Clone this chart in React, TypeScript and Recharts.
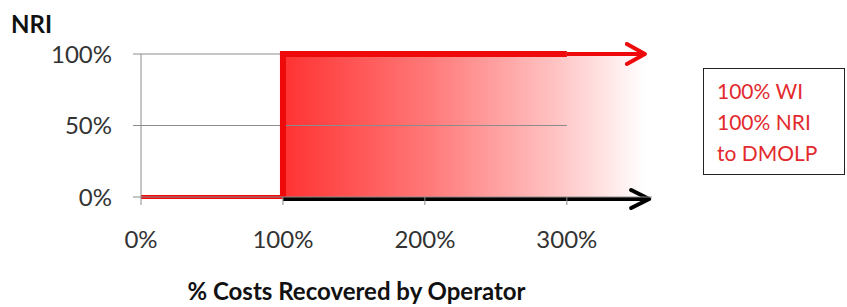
import { ComposedChart, Line, Area, XAxis, YAxis, ReferenceLine, Legend } from 'recharts';

// x = % costs recovered by operator, y = NRI share
const xTicks = [0, 100, 200, 300];
const yTicks = [0, 0.5, 1];
const gridLevels = [0.5, 1];
const gridEnd = 300;

const redBase = [{ x: 0, y: 0 }, { x: 100, y: 0 }];
const redStep = [{ x: 100, y: 0 }, { x: 100, y: 1 }, { x: 300, y: 1 }];
const redArrow = [{ x: 300, y: 1 }, { x: 355, y: 1 }];
const blackArrow = [{ x: 100, y: 0 }, { x: 358, y: 0 }];
const fillArea = [{ x: 100, y: 1 }, { x: 355, y: 1 }];

const boxLines = ['100% WI', '100% NRI', 'to DMOLP'];

const font = 'Lato, "Open Sans", sans-serif';
const red = '#ee0a0a';
const gray = '#8c8c8c';

const BoxLegend = () => (
    <div
        style={{
            position: 'absolute',
            left: 703,
            top: 68,
            width: 142,
            height: 107,
            border: '1.5px solid #222',
            boxSizing: 'border-box',
            padding: '6px 0 0 13px',
            fontFamily: font,
            fontSize: 21,
            lineHeight: '31px',
            color: '#e32a2e',
        }}
    >
        {boxLines.map(l => (
            <div key={l}>{l}</div>
        ))}
    </div>
);

export default function App() {
    return (
        <div style={{ position: 'relative', width: 847, height: 307 }}>
            <style>{'body{margin:0}'}</style>
            <ComposedChart
                width={847}
                height={307}
                margin={{ top: 54, right: 195, left: 0, bottom: 0 }}
            >
                <defs>
                    <linearGradient id="fade" x1="0" y1="0" x2="1" y2="0">
                        <stop offset="0%" stopColor="#ff3232" />
                        <stop offset="40%" stopColor="#ff7878" />
                        <stop offset="75%" stopColor="#ffc2c2" />
                        <stop offset="100%" stopColor="#ffffff" />
                    </linearGradient>
                    <marker id="redHead" markerUnits="userSpaceOnUse" markerWidth="24" markerHeight="26"
                        refX="20" refY="12" orient="auto" viewBox="0 0 24 26">
                        <path d="M2,2 L20,12 L2,22" fill="none" stroke={red} strokeWidth="4" strokeLinecap="round" strokeLinejoin="round" />
                    </marker>
                    <marker id="blackHead" markerUnits="userSpaceOnUse" markerWidth="24" markerHeight="26"
                        refX="20" refY="12" orient="auto" viewBox="0 0 24 26">
                        <path d="M2,3 L20,12 L2,21" fill="none" stroke="#000" strokeWidth="4" strokeLinecap="round" strokeLinejoin="round" />
                    </marker>
                </defs>
                <XAxis
                    type="number"
                    dataKey="x"
                    domain={[0, 360]}
                    ticks={xTicks}
                    tickFormatter={v => `${v}%`}
                    tickSize={8}
                    tickMargin={26}
                    height={110}
                    axisLine={{ stroke: gray }}
                    tickLine={{ stroke: gray }}
                    tick={{ fill: '#333', fontSize: 24, fontFamily: font }}
                    label={{
                        value: '% Costs Recovered by Operator',
                        position: 'insideBottom',
                        offset: 7,
                        dx: -40,
                        style: { fill: '#111', fontSize: 24, fontWeight: 700, fontFamily: font },
                    }}
                />
                <YAxis
                    type="number"
                    dataKey="y"
                    domain={[0, 1]}
                    ticks={yTicks}
                    tickFormatter={v => `${Math.round(v * 100)}%`}
                    width={141}
                    tickSize={8}
                    tickMargin={21}
                    axisLine={{ stroke: gray }}
                    tickLine={{ stroke: gray }}
                    tick={{ fill: '#333', fontSize: 24, fontFamily: font }}
                    label={{
                        value: 'NRI',
                        position: 'top',
                        offset: 21,
                        dx: -39,
                        style: { fill: '#111', fontSize: 24, fontWeight: 700, fontFamily: font },
                    }}
                />
                <Area data={fillArea} dataKey="y" type="linear" fill="url(#fade)" fillOpacity={1}
                    stroke="none" isAnimationActive={false} />
                {gridLevels.map(g => (
                    <ReferenceLine key={g} segment={[{ x: 0, y: g }, { x: gridEnd, y: g }]}
                        stroke={gray} strokeWidth={1} />
                ))}
                <Line data={blackArrow} dataKey="y" type="linear" stroke="#000" strokeWidth={4}
                    dot={false} markerEnd="url(#blackHead)" isAnimationActive={false}
                    style={{ transform: 'translateY(2px)' }} />
                <Line data={redBase} dataKey="y" type="linear" stroke={red} strokeWidth={4}
                    dot={false} isAnimationActive={false} />
                <Line data={redStep} dataKey="y" type="linear" stroke={red} strokeWidth={6}
                    dot={false} strokeLinejoin="miter" isAnimationActive={false} />
                <Line data={redArrow} dataKey="y" type="linear" stroke={red} strokeWidth={4}
                    dot={false} markerEnd="url(#redHead)" isAnimationActive={false} />
                <Legend content={<BoxLegend />} wrapperStyle={{ position: 'absolute', left: 0, top: 0, width: 0, height: 0 }} />
            </ComposedChart>
        </div>
    );
}
